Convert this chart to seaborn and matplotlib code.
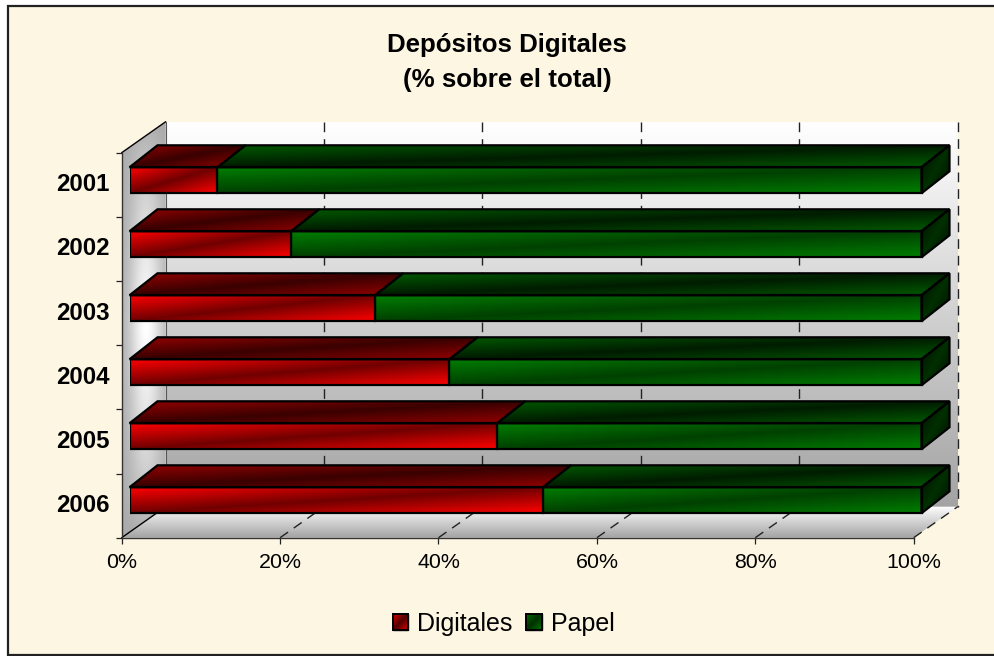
"""
Depositos Digitales: stacked 3D-looking horizontal bars with seaborn.
"""

import matplotlib

matplotlib.use("Agg")

import matplotlib.pyplot as plt
import numpy as np
import pandas as pd
import seaborn as sns
from matplotlib.colors import to_rgb
from matplotlib.patches import Patch, Polygon, Rectangle

# ==========================================================
# Data
# ==========================================================

YEARS = ["2001", "2002", "2003", "2004", "2005", "2006"]
DIGITALES = [11.1, 20.4, 31.0, 40.4, 46.4, 52.2]
PAPEL = [88.9, 79.6, 69.0, 59.6, 53.6, 47.8]
X_TICKS = [0, 20, 40, 60, 80, 100]

TITLE = "Depósitos Digitales\n(% sobre el total)"

# ==========================================================
# Configuration (pixels of the 994x656 picture)
# ==========================================================

W, H = 994, 656
BG = "#FDF6E3"
FRAME = (121.7, 913.7, 152.7, 537.7)
BARS = (129.5, 921.5, 148.3, 532.3)
BAR_PX = 26
WALL_DX, WALL_DY = 44, 31
BAR_DX, BAR_DY = 28, 22

RED_FRONT = ("#FF0000", "#700000")
RED_TOP = ("#950000", "#3A0000")
GREEN_FRONT = ("#007E00", "#004000")
GREEN_TOP = ("#005A00", "#001C00")
GREEN_SIDE = ("#000C00", "#003000")

sns.set_theme(style="white")
plt.rcParams["font.family"] = ["Liberation Sans", "DejaVu Sans"]


# ==========================================================
# Helpers
# ==========================================================

def px_axes(fig, box):
    left, right, top, bottom = box
    return fig.add_axes([left / W, 1 - bottom / H, (right - left) / W, (bottom - top) / H])


def diagonal(colors, rows=60, cols=240):
    # bright at two opposite corners, dark along the middle
    u, v = np.meshgrid(np.linspace(0, 1, cols), np.linspace(0, 1, rows))
    w = 1 - np.abs((u + v) - 1)
    a, b = np.array(to_rgb(colors[0])), np.array(to_rgb(colors[1]))
    return a * (1 - w[..., None]) + b * w[..., None]


def paint(ax, image, poly, zorder):
    xs, ys = np.array(poly)[:, 0], np.array(poly)[:, 1]
    im = ax.imshow(
        image,
        extent=(xs.min(), xs.max(), ys.max(), ys.min()),
        aspect="auto",
        interpolation="bilinear",
        zorder=zorder,
    )
    clip = Polygon(poly, closed=True, transform=ax.transData)
    im.set_clip_path(clip)
    im.set_clip_box(ax.figure.bbox)
    return im


def face(ax, colors, poly, zorder=2, lw=1.6):
    paint(ax, diagonal(colors), poly, zorder)
    ax.add_patch(
        Polygon(poly, closed=True, fill=False, edgecolor="black",
                linewidth=lw, zorder=zorder + 1, clip_on=False)
    )


# ==========================================================
# Figure and background
# ==========================================================

fig = plt.figure(figsize=(W / 100, H / 100), dpi=100, facecolor="white")

fig.add_artist(
    Rectangle((7.5 / W, 1 - 655 / H), 1.1, (655 - 5.5) / H, transform=fig.transFigure,
              facecolor=BG, edgecolor="#222222", linewidth=1.6, zorder=-5)
)

fig.text(507 / W, 1 - 62.5 / H, TITLE, ha="center", va="center",
         fontsize=18.6, fontweight="bold", color="black", linespacing=1.6)

# ==========================================================
# Walls, floor, grid and axes
# ==========================================================

ax_frame = px_axes(fig, FRAME)
ax_frame.patch.set_visible(False)
ax_frame.set_autoscale_on(False)
ax_frame.set_xlim(0, 100)
ax_frame.set_ylim(len(YEARS), 0)

dx = WALL_DX * 100 / (FRAME[1] - FRAME[0])
dy = WALL_DY * len(YEARS) / (FRAME[3] - FRAME[2])
n = len(YEARS)

# back wall: white at the top, grey at the floor
shade = np.linspace(1.0, 0.64, 200)[:, None, None] * np.ones((200, 2, 3))
paint(ax_frame, shade,
      [(dx, -dy), (100 + dx, -dy), (100 + dx, n - dy), (dx, n - dy)], 1)

# floor: grey at the front, white at the back
shade = np.linspace(1.0, 0.64, 100)[:, None, None] * np.ones((100, 2, 3))
paint(ax_frame, shade,
      [(0, n), (100, n), (100 + dx, n - dy), (dx, n - dy)], 1)

# left wall: grey at the ends, light band in the middle
u, v = np.meshgrid(np.linspace(0, 1, 60), np.linspace(0, 1, 200))
band = 0.66 + 0.34 * np.exp(-(((u - 0.55) / 0.4) ** 2)) * (1 - np.abs(2 * v - 1)) ** 0.7
paint(ax_frame, np.dstack([band, band, band]),
      [(0, 0), (dx, -dy), (dx, n - dy), (0, n)], 1)

# grid lines, back wall and floor
for tick in X_TICKS[1:]:
    ax_frame.plot([tick + dx, tick + dx], [-dy, n - dy], color="#222222", lw=1.0,
                  dashes=(7, 5), clip_on=False, zorder=2)
    ax_frame.plot([tick, tick + dx], [n, n - dy], color="#222222", lw=1.0,
                  dashes=(7, 5), clip_on=False, zorder=2)

ax_frame.plot([0, dx], [0, -dy], color="black", lw=1.0, clip_on=False, zorder=3)
ax_frame.plot([0, dx], [n, n - dy], color="black", lw=1.0, clip_on=False, zorder=3)
ax_frame.plot([dx, dx], [-dy, n - dy], color="#555555", lw=0.8, clip_on=False, zorder=2)

sns.despine(ax=ax_frame, top=True, right=True)
for side in ["left", "bottom"]:
    ax_frame.spines[side].set_color("#333333")
    ax_frame.spines[side].set_linewidth(1.0)
    ax_frame.spines[side].set_zorder(4)

ax_frame.set_xticks(X_TICKS)
ax_frame.set_xticklabels([f"{t}%" for t in X_TICKS], fontsize=15.4, color="black")
ax_frame.set_yticks(np.arange(n) + 0.46)
ax_frame.set_yticklabels(YEARS, fontsize=17.3, fontweight="bold", color="black")
ax_frame.set_yticks(np.arange(n + 1), minor=True)
ax_frame.tick_params(axis="x", direction="out", length=4.3, width=0.9, color="#222222",
                     pad=6.8, bottom=True)
ax_frame.tick_params(axis="y", which="major", length=0, pad=8.5, left=False)
ax_frame.tick_params(axis="y", which="minor", direction="out", length=4.3, width=0.9,
                     color="#222222", left=True)

# ==========================================================
# Bars (front faces come from seaborn)
# ==========================================================

ax_bars = px_axes(fig, BARS)
ax_bars.patch.set_visible(False)

df = pd.DataFrame({"year": YEARS, "digitales": DIGITALES, "papel": PAPEL})
df["total"] = df["digitales"] + df["papel"]

bar_height = BAR_PX / ((BARS[3] - BARS[2]) / n)

sns.barplot(data=df, y="year", x="total", order=YEARS, color=GREEN_FRONT[0],
            width=bar_height, saturation=1, edgecolor="black", linewidth=1.6,
            orient="y", ax=ax_bars)
green_bars = list(ax_bars.patches)

sns.barplot(data=df, y="year", x="digitales", order=YEARS, color=RED_FRONT[0],
            width=bar_height, saturation=1, edgecolor="black", linewidth=1.6,
            orient="y", ax=ax_bars)
red_bars = list(ax_bars.patches)[len(green_bars):]

ax_bars.set_autoscale_on(False)
ax_bars.set_xlim(0, 100)
ax_bars.set_ylim(n - 0.5, -0.5)
ax_bars.axis("off")

bx = BAR_DX * 100 / (BARS[1] - BARS[0])
by = BAR_DY * n / (BARS[3] - BARS[2])

for red, green in zip(red_bars, green_bars):
    y0 = red.get_y()
    y1 = y0 + red.get_height()
    val = red.get_width()
    end = green.get_width()

    # green front, only the stretch after the red one
    green.set_visible(False)
    face(ax_bars, GREEN_FRONT, [(val, y0), (end, y0), (end, y1), (val, y1)])

    # red front, the seaborn patch stays as outline
    paint(ax_bars, diagonal(RED_FRONT), [(0, y0), (val, y0), (val, y1), (0, y1)], 3)
    red.set_facecolor("none")
    red.set_zorder(4)

    # top faces and right side
    face(ax_bars, RED_TOP,
         [(0, y0), (val, y0), (val + bx, y0 - by), (bx, y0 - by)])
    face(ax_bars, GREEN_TOP,
         [(val, y0), (end, y0), (end + bx, y0 - by), (val + bx, y0 - by)])
    face(ax_bars, GREEN_SIDE,
         [(end, y0), (end + bx, y0 - by), (end + bx, y1 - by), (end, y1)])

ax_bars.set_xlim(0, 100)
ax_bars.set_ylim(n - 0.5, -0.5)

# ==========================================================
# Legend
# ==========================================================

handles = [
    Patch(facecolor=RED_FRONT[1], edgecolor="black", label="Digitales"),
    Patch(facecolor=GREEN_FRONT[1], edgecolor="black", label="Papel"),
]
legend = fig.legend(
    handles=handles,
    loc="center",
    bbox_to_anchor=(503.5 / W, 1 - 623.5 / H),
    ncol=2,
    frameon=False,
    fontsize=18,
    labelcolor="black",
    handlelength=0.62,
    handleheight=0.62,
    handletextpad=0.36,
    columnspacing=0.55,
)

fig.canvas.draw()

# swatches get the same diagonal shine as the bars
swatch_colors = [("#E00000", "#500000"), ("#006E00", "#003000")]
for swatch, colors in zip(legend.get_patches(), swatch_colors):
    box = swatch.get_window_extent().transformed(fig.transFigure.inverted())
    ax_swatch = fig.add_axes([box.x0, box.y0, box.width, box.height], zorder=10)
    ax_swatch.imshow(diagonal(colors, 20, 20), aspect="auto", interpolation="bilinear")
    ax_swatch.set_xticks([])
    ax_swatch.set_yticks([])
    for spine in ax_swatch.spines.values():
        spine.set_color("black")
        spine.set_linewidth(1.4)

fig.savefig("out.png", dpi=100, facecolor=fig.get_facecolor())
plt.close(fig)
